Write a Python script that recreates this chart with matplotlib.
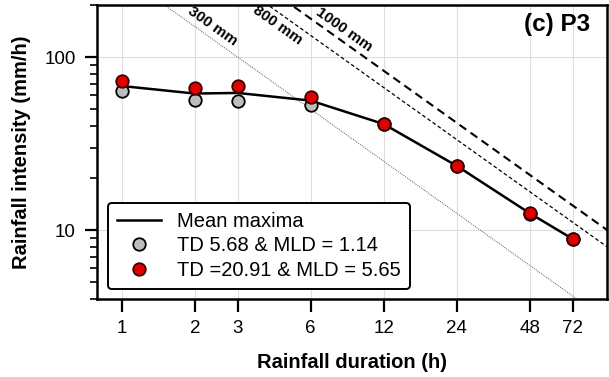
import numpy as np
import matplotlib
matplotlib.use("Agg")
import matplotlib.pyplot as plt
from matplotlib.ticker import FixedLocator, NullFormatter, LogLocator

plt.rcParams['font.family'] = ['Liberation Sans', 'DejaVu Sans']

# data
durations = [1, 2, 3, 6, 12, 24, 48, 72]
mean_maxima = [68, 61.5, 62, 56, 41, 23.5, 12.5, 8.9]
td_low = [63.5, 56.2, 55.8, 52.6, 40.8, 23.4, 12.4, 8.9]
td_high = [72.5, 66.5, 68, 58.8, 41.2, 23.5, 12.5, 8.9]
tick_labels = ['1', '2', '3', '6', '12', '24', '48', '72']
totals = [300, 800, 1000]
total_labels = ['300 mm', '800 mm', '1000 mm']
label_x = [2.37, 4.40, 8.23]
label_y = [150, 153, 143.6]

fig = plt.figure(figsize=(6.09, 3.77), dpi=100)
ax = fig.add_axes([0.159, 0.207, 0.838, 0.78])
ax.set_xscale('log')
ax.set_yscale('log')
ax.set_xlim(0.79, 100)
ax.set_ylim(4, 200)

# constant total rainfall lines
xx = np.array([0.5, 150])
styles = [dict(color='0.35', lw=0.7, ls=(0, (1, 1.2))),
          dict(color='k', lw=0.9, ls=(0, (3, 2))),
          dict(color='k', lw=1.5, ls=(0, (4, 2.5)))]
for tot, st in zip(totals, styles):
    ax.plot(xx, tot / xx, zorder=2, **st)
for lab, lx, ly in zip(total_labels, label_x, label_y):
    ax.text(lx, ly, lab, rotation=-35.3, ha='center', va='center',
            fontsize=11, fontweight='bold', rotation_mode='anchor')

ax.plot(durations, mean_maxima, color='k', lw=1.8, zorder=3, label='Mean maxima')
ax.plot(durations, td_low, 'o', ms=9, mfc='#bdbdbd', mec='k', mew=1.3, zorder=4,
        label='TD 5.68 & MLD = 1.14')
ax.plot(durations, td_high, 'o', ms=9, mfc='#e00000', mec='#3a0000', mew=1.3, zorder=5,
        label='TD =20.91 & MLD = 5.65')

ax.xaxis.set_major_locator(FixedLocator(durations))
ax.set_xticklabels(tick_labels)
ax.xaxis.set_minor_locator(FixedLocator([]))
ax.xaxis.set_minor_formatter(NullFormatter())
ax.yaxis.set_major_locator(FixedLocator([10, 100]))
ax.set_yticklabels(['10', '100'])
ax.yaxis.set_minor_locator(LogLocator(base=10, subs=np.arange(2, 10)))
ax.yaxis.set_minor_formatter(NullFormatter())

ax.tick_params(axis='both', which='major', length=9, width=1.6, labelsize=13.5, pad=6)
ax.tick_params(axis='y', which='minor', length=5, width=1.2)
for s in ax.spines.values():
    s.set_linewidth(1.8)

ax.grid(True, which='major', color='0.87', lw=0.8, zorder=0)
ax.set_axisbelow(True)

ax.set_xlabel('Rainfall duration (h)', fontsize=14.5, fontweight='bold', labelpad=12)
ax.set_ylabel('Rainfall intensity (mm/h)', fontsize=14.5, fontweight='bold', labelpad=10)

ax.text(0.967, 0.932, '(c) P3', transform=ax.transAxes, ha='right', va='center',
        fontsize=17.5, fontweight='bold')

leg = ax.legend(loc='lower left', fontsize=14.5, frameon=True, fancybox=True,
                handlelength=2.2, handletextpad=0.8, borderpad=0.45, labelspacing=0.28,
                bbox_to_anchor=(0.0216, 0.034), borderaxespad=0)
leg.get_frame().set_edgecolor('k')
leg.get_frame().set_linewidth(1.4)
leg.get_frame().set_alpha(1)

fig.savefig('out.png', dpi=100)
